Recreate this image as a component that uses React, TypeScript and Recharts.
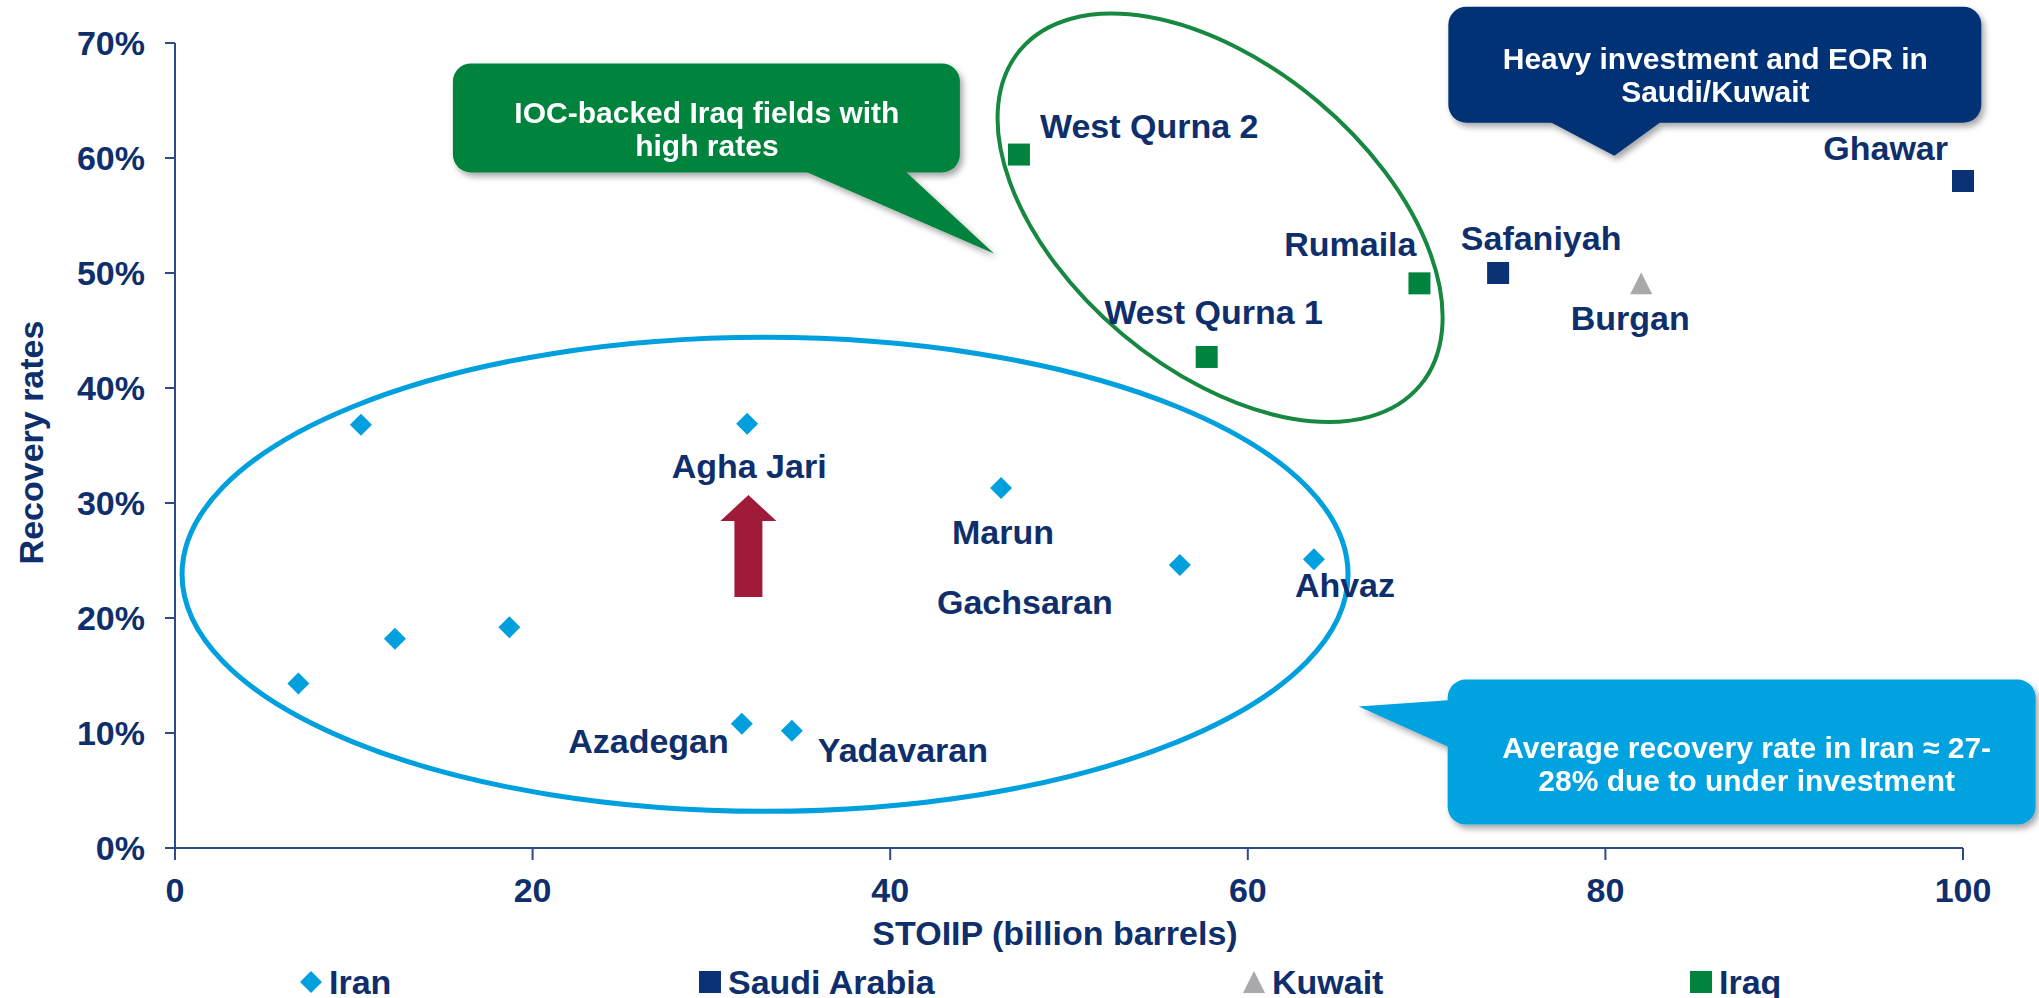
import { ScatterChart, Scatter, XAxis, YAxis, ReferenceDot, Legend } from 'recharts';

// STOIIP (billion barrels) vs recovery rate (%)
const iranX = [6.9, 10.4, 12.3, 18.7, 31.7, 32.0, 34.5, 46.2, 56.2, 63.7];
const iranY = [14.3, 36.8, 18.2, 19.2, 10.8, 36.9, 10.2, 31.3, 24.6, 25.1];
const iranNames = ['', '', '', '', 'Azadegan', 'Agha Jari', 'Yadavaran', 'Marun', 'Gachsaran', 'Ahvaz'];

const saudiX = [74.0, 100];
const saudiY = [50.0, 58.0];
const saudiNames = ['Safaniyah', 'Ghawar'];

const kuwaitX = [82.0];
const kuwaitY = [49.1];
const kuwaitNames = ['Burgan'];

const iraqX = [47.2, 57.7, 69.6];
const iraqY = [60.3, 42.7, 49.1];
const iraqNames = ['West Qurna 2', 'West Qurna 1', 'Rumaila'];

const xTicks = [0, 20, 40, 60, 80, 100];
const yTicks = [0, 10, 20, 30, 40, 50, 60, 70];

const FONT = '"Liberation Sans", Arial, sans-serif';
const TEXT = '#0E2E6C';
const AXIS = '#2E4B86';
const C_IRAN = '#00A0DF';
const C_SAUDI = '#0A3275';
const C_KUWAIT = '#A8A9AD';
const C_IRAQ = '#00843D';

const toPoints = (xs: number[], ys: number[], names: string[]) =>
  xs.map((x, i) => ({ x, y: ys[i], name: names[i] }));

const iranData = toPoints(iranX, iranY, iranNames);
const saudiData = toPoints(saudiX, saudiY, saudiNames);
const kuwaitData = toPoints(kuwaitX, kuwaitY, kuwaitNames);
const iraqData = toPoints(iraqX, iraqY, iraqNames);

// label placement relative to the marker (px)
const labelPos: Record<string, { dx: number; dy: number; anchor: string }> = {
  'Agha Jari': { dx: 2, dy: 42, anchor: 'middle' },
  Marun: { dx: 2, dy: 44, anchor: 'middle' },
  Gachsaran: { dx: -155, dy: 37, anchor: 'middle' },
  Ahvaz: { dx: 31, dy: 26, anchor: 'middle' },
  Azadegan: { dx: -13, dy: 17, anchor: 'end' },
  Yadavaran: { dx: 26, dy: 19, anchor: 'start' },
  'West Qurna 2': { dx: 21, dy: -29, anchor: 'start' },
  Rumaila: { dx: -3, dy: -39, anchor: 'end' },
  'West Qurna 1': { dx: 7, dy: -45, anchor: 'middle' },
  Safaniyah: { dx: 43, dy: -35, anchor: 'middle' },
  Burgan: { dx: -11, dy: 35, anchor: 'middle' },
  Ghawar: { dx: -15, dy: -33, anchor: 'end' },
};

function marker(kind: string, cx: number, cy: number, color: string) {
  const s = 11;
  if (kind === 'diamond')
    return <polygon points={`${cx},${cy - s} ${cx + s},${cy} ${cx},${cy + s} ${cx - s},${cy}`} fill={color} />;
  if (kind === 'triangle')
    return <polygon points={`${cx},${cy - s} ${cx + s},${cy + s} ${cx - s},${cy + s}`} fill={color} />;
  return <rect x={cx - s} y={cy - s} width={2 * s} height={2 * s} fill={color} />;
}

const pointShape = (kind: string, color: string) => (props: any) => {
  const { cx, cy, payload } = props;
  const lp = payload && labelPos[payload.name];
  return (
    <g>
      {marker(kind, cx, cy, color)}
      {lp && (
        <text x={cx + lp.dx} y={cy + lp.dy} textAnchor={lp.anchor} dominantBaseline="central"
          fontFamily={FONT} fontSize={34} fontWeight={700} fill={TEXT}>
          {payload.name}
        </text>
      )}
    </g>
  );
};

function Callout(props: any) {
  const { cx, cy, color, box, tail, lines, tx, ty } = props;
  return (
    <g filter="url(#shadow)">
      <polygon points={tail.map((p: number[]) => `${cx + p[0]},${cy + p[1]}`).join(' ')} fill={color} />
      <rect x={cx + box[0]} y={cy + box[1]} width={box[2]} height={box[3]} rx={18} fill={color} />
      {lines.map((l: string, i: number) => (
        <text key={i} x={cx + tx} y={cy + ty + i * 33} textAnchor="middle" dominantBaseline="central"
          fontFamily={FONT} fontSize={30} fontWeight={700} fill="#ffffff">
          {l}
        </text>
      ))}
    </g>
  );
}

const shadowDefs = (
  <defs>
    <filter id="shadow" x="-10%" y="-20%" width="130%" height="150%">
      <feDropShadow dx="3" dy="4" stdDeviation="3" floodColor="#000" floodOpacity="0.35" />
    </filter>
  </defs>
);

const legendMarks: Record<string, { kind: string; left: number }> = {
  Iran: { kind: 'diamond', left: 300 },
  'Saudi Arabia': { kind: 'square', left: 699 },
  Kuwait: { kind: 'triangle', left: 1243 },
  Iraq: { kind: 'square', left: 1690 },
};

const LEGEND_H = 32;

function LegendContent(props: any) {
  const payload = props.payload || [];
  return (
    <div style={{ position: 'relative', height: LEGEND_H, width: 1963 }}>
      {payload.map((p: any) => {
        const m = legendMarks[p.value];
        if (!m) return null;
        return (
          <div key={p.value} style={{ position: 'absolute', left: m.left, top: 0, height: LEGEND_H, display: 'flex', alignItems: 'center' }}>
            <svg width={22} height={22}>{marker(m.kind, 11, 11, p.color)}</svg>
            <span style={{ marginLeft: 7, fontFamily: FONT, fontSize: 34, fontWeight: 700, color: TEXT, lineHeight: `${LEGEND_H}px` }}>
              {p.value}
            </span>
          </div>
        );
      })}
    </div>
  );
}

export default function App() {
  return (
    <div style={{ position: 'absolute', left: 0, top: 0 }}>
      <ScatterChart width={2039} height={998} margin={{ top: 43, right: 76, bottom: 0, left: 0 }}>
        <XAxis
          type="number" dataKey="x" domain={[0, 100]} ticks={xTicks} interval={0}
          height={998 - 848 - LEGEND_H} tickSize={12} tickMargin={18}
          stroke={AXIS} strokeWidth={2}
          tick={{ fill: TEXT, fontSize: 34, fontWeight: 700, fontFamily: FONT }}
          label={(p: any) => {
            const vb = p.viewBox || { x: 175, y: 848, width: 1788, height: 118 };
            return (
              <text x={vb.x + vb.width / 2 - 14} y={vb.y + 85} textAnchor="middle" dominantBaseline="central"
                fontFamily={FONT} fontSize={34} fontWeight={700} fill={TEXT}>
                STOIIP (billion barrels)
              </text>
            );
          }}
        />
        <YAxis
          type="number" dataKey="y" domain={[0, 70]} ticks={yTicks} interval={0}
          width={175} tickSize={10} tickMargin={20}
          stroke={AXIS} strokeWidth={2}
          tickFormatter={(v: number) => `${v}%`}
          tick={{ fill: TEXT, fontSize: 34, fontWeight: 700, fontFamily: FONT }}
          label={(p: any) => {
            const vb = p.viewBox || { x: 0, y: 43, width: 175, height: 805 };
            const x = vb.x + 31;
            const y = vb.y + vb.height / 2 - 3;
            return (
              <text x={x} y={y} transform={`rotate(-90, ${x}, ${y})`} textAnchor="middle" dominantBaseline="central"
                fontFamily={FONT} fontSize={34} fontWeight={700} fill={TEXT}>
                Recovery rates
              </text>
            );
          }}
        />
        <Legend verticalAlign="bottom" content={<LegendContent />} />

        {/* Iran cluster ellipse */}
        <ReferenceDot x={33.0} y={23.8} ifOverflow="visible"
          shape={(p: any) => (
            <g>
              {shadowDefs}
              <ellipse cx={p.cx} cy={p.cy} rx={583} ry={237} fill="none" stroke={C_IRAN} strokeWidth={5} />
            </g>
          )}
        />
        {/* Iraq cluster ellipse */}
        <ReferenceDot x={58.45} y={54.8} ifOverflow="visible"
          shape={(p: any) => (
            <ellipse cx={p.cx} cy={p.cy} rx={261} ry={152} fill="none" stroke="#17883F" strokeWidth={4}
              transform={`rotate(40, ${p.cx}, ${p.cy})`} />
          )}
        />
        {/* up arrow */}
        <ReferenceDot x={32.07} y={30.7} ifOverflow="visible"
          shape={(p: any) => (
            <polygon fill="#A01B39" points={[[0, 0], [28, 26], [14, 26], [14, 102], [-14, 102], [-14, 26], [-28, 26]]
              .map((q) => `${p.cx + q[0]},${p.cy + q[1]}`).join(' ')} />
          )}
        />
        <ReferenceDot x={45.8} y={51.7} ifOverflow="visible"
          shape={(p: any) => (
            <Callout cx={p.cx} cy={p.cy} color="#00843D" box={[-541, -190, 507, 109]}
              tail={[[-207, -90], [-97, -90], [0, 0]]}
              lines={['IOC-backed Iraq fields with', 'high rates']} tx={-287} ty={-141} />
          )}
        />
        <ReferenceDot x={80.5} y={60.2} ifOverflow="visible"
          shape={(p: any) => (
            <Callout cx={p.cx} cy={p.cy} color="#063375" box={[-166, -149, 533, 116]}
              tail={[[-76, -40], [55, -40], [0, 0]]}
              lines={['Heavy investment and EOR in', 'Saudi/Kuwait']} tx={101} ty={-97} />
          )}
        />
        <ReferenceDot x={66.2} y={12.3} ifOverflow="visible"
          shape={(p: any) => (
            <Callout cx={p.cx} cy={p.cy} color="#00A3E0" box={[89, -27, 588, 145]}
              tail={[[100, -7], [0, 0], [100, 45]]}
              lines={['Average recovery rate in Iran \u2248 27-', '28% due to under investment']} tx={388} ty={41} />
          )}
        />

        <Scatter name="Iran" data={iranData} fill={C_IRAN} isAnimationActive={false} shape={pointShape('diamond', C_IRAN)} />
        <Scatter name="Saudi Arabia" data={saudiData} fill={C_SAUDI} isAnimationActive={false} shape={pointShape('square', C_SAUDI)} />
        <Scatter name="Kuwait" data={kuwaitData} fill={C_KUWAIT} isAnimationActive={false} shape={pointShape('triangle', C_KUWAIT)} />
        <Scatter name="Iraq" data={iraqData} fill={C_IRAQ} isAnimationActive={false} shape={pointShape('square', C_IRAQ)} />
      </ScatterChart>
    </div>
  );
}
